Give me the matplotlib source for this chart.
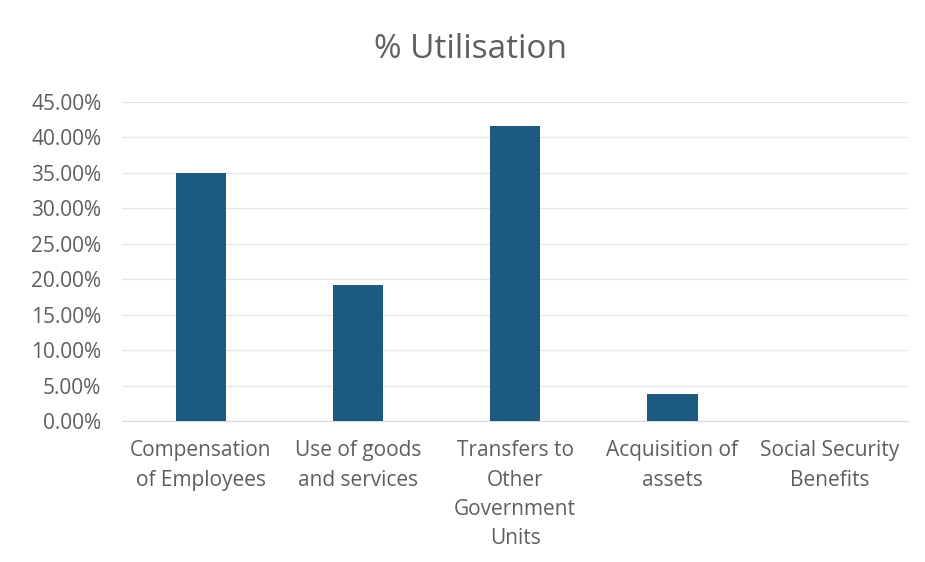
import matplotlib.pyplot as plt
from matplotlib.ticker import PercentFormatter

# spending categories and share of utilisation (%)
categories = [
    "Compensation\nof Employees",
    "Use of goods\nand services",
    "Transfers to\nOther\nGovernment\nUnits",
    "Acquisition of\nassets",
    "Social Security\nBenefits",
]
utilisation = [35.0, 19.2, 41.6, 3.8, 0.0]

BAR_COLOR = "#1d5a7f"
TEXT_COLOR = "#5e5e5e"

plt.rcParams["font.family"] = ["Open Sans", "DejaVu Sans"]

fig = plt.figure(figsize=(9.25, 5.62), dpi=100)
ax = fig.add_axes([0.132, 0.251, 0.850, 0.5675])

x = range(len(categories))
ax.bar(x, utilisation, width=0.32, color=BAR_COLOR, zorder=3)

ax.set_xlim(-0.5, len(categories) - 0.5)
ax.set_ylim(0, 45)
ax.set_yticks([i * 5 for i in range(10)])
ax.yaxis.set_major_formatter(PercentFormatter(decimals=2))
ax.set_xticks(list(x))
ax.set_xticklabels(categories, linespacing=1.52, va="top")

ax.grid(axis="y", color="#e6e6e6", linewidth=0.9, zorder=0)
for side in ["top", "right", "left"]:
    ax.spines[side].set_visible(False)
ax.spines["bottom"].set_color("#d9d9d9")
ax.tick_params(axis="both", length=0, colors=TEXT_COLOR, labelsize=15)
ax.tick_params(axis="x", pad=14)
ax.tick_params(axis="y", pad=15)

fig.text(0.509, 0.912, "% Utilisation", ha="center", va="center",
         fontsize=24, color=TEXT_COLOR)

plt.savefig("out.png", dpi=100)
